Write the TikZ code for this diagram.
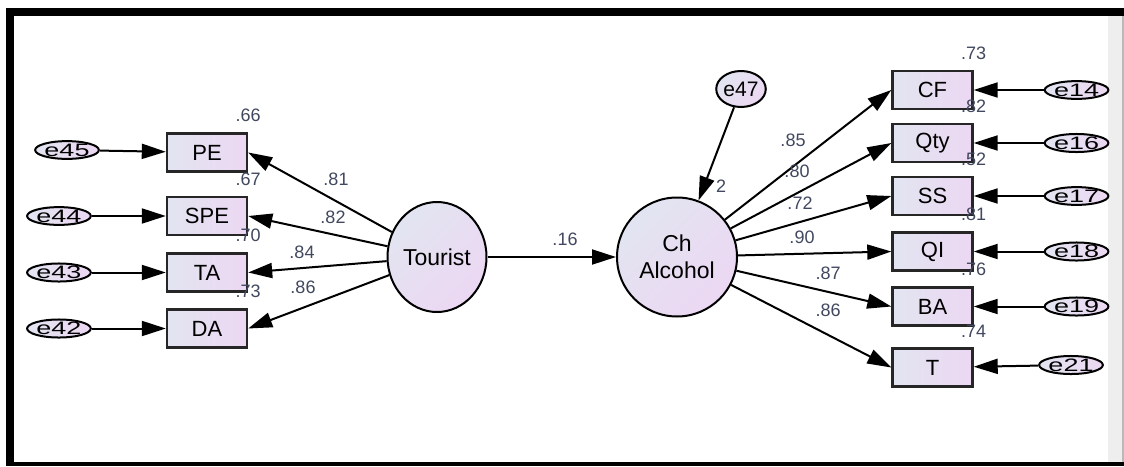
\documentclass[tikz,border=0pt]{standalone}
\usepackage{fontspec}
\setmainfont{Liberation Sans}
\usepackage{graphicx}
\usetikzlibrary{positioning,arrows.meta,shapes.geometric}

\definecolor{shadeA}{RGB}{226,229,241}
\definecolor{shadeB}{RGB}{236,215,242}
\definecolor{estcol}{RGB}{65,72,95}
\definecolor{stripgray}{RGB}{238,238,238}

\tikzset{
  obs/.style={rectangle, draw=black!85, line width=2.4pt, left color=shadeA, right color=shadeB,
    minimum width=80pt, minimum height=38pt, inner sep=0pt, font=\fontsize{22}{26}\selectfont},
  err/.style={ellipse, draw, line width=2pt, left color=shadeA, right color=shadeB,
    minimum width=53pt, minimum height=16pt, inner sep=0pt, font=\fontsize{18}{20}\selectfont},
  latent/.style={ellipse, draw, line width=2pt, top color=shadeA, bottom color=shadeB,
    shading angle=45, inner sep=0pt, align=center, font=\fontsize{23}{27}\selectfont},
  est/.style={inner sep=1pt, text=estcol, font=\fontsize{18}{20}\selectfont},
  regr/.style={line width=2pt, -{Triangle[length=24pt,width=15pt]}}
}
\newcommand{\errname}[1]{\scalebox{1.5}[1]{#1}}

\begin{document}
\begin{tikzpicture}[x=1pt, y=-1pt]
  \useasboundingbox (0,0) rectangle (1124,466);
  \fill[white] (0,0) rectangle (1124,466);

  % frame
  \fill[black] (6,8) rectangle (1124,466);
  \fill[white] (14,16) rectangle (1124,462);
  \fill[stripgray] (1108,16) rectangle (1122,462);
  \fill[gray!55] (1122,16) rectangle (1124,462);

  % latent variables
  \node[latent, minimum width=99pt, minimum height=110pt] (tourist) at (437,257) {Tourist};
  \node[latent, minimum width=120pt, minimum height=119pt] (chalc) at (677,257) {Ch\\Alcohol};
  \node[latent, minimum width=44pt, minimum height=36pt, font=\fontsize{21}{24}\selectfont] (e47) at (741,89) {e47};

  % indicators of Tourist
  \node[obs] (pe) at (207,152.5) {PE};
  \node[obs] (spe) at (207,216) {SPE};
  \node[obs] (ta) at (207,272.5) {TA};
  \node[obs] (da) at (207,328.5) {DA};

  \node[err] (e45) at (67,150) {\errname{e45}};
  \node[err] (e44) [left = 74pt of spe] {\errname{e44}};
  \node[err] (e43) [left = 74pt of ta] {\errname{e43}};
  \node[err] (e42) [left = 74pt of da] {\errname{e42}};

  % indicators of Ch Alcohol
  \node[obs] (cf) at (932.5,90) {CF};
  \node[obs] (qty) at (932.5,143) {Qty};
  \node[obs] (ss) at (932.5,196) {SS};
  \node[obs] (qi) at (932.5,251.5) {QI};
  \node[obs] (ba) at (932.5,306.5) {BA};
  \node[obs] (t) at (932.5,367.5) {T};

  \node[err] (e14) [right = 70pt of cf] {\errname{e14}};
  \node[err] (e16) [right = 70pt of qty] {\errname{e16}};
  \node[err] (e17) [right = 70pt of ss] {\errname{e17}};
  \node[err] (e18) [right = 70pt of qi] {\errname{e18}};
  \node[err] (e19) [right = 70pt of ba] {\errname{e19}};
  \node[err] (e21) at (1071,365) {\errname{e21}};

  % paths
  \draw[regr] (tourist) -- (chalc);
  \draw[regr] (e47) -- (chalc);

  \draw[regr] (tourist) -- (pe.east);
  \draw[regr] (tourist) -- (spe.east);
  \draw[regr] (tourist) -- (ta.east);
  \draw[regr] (tourist) -- (da.east);

  \draw[regr] (chalc) -- (cf.west);
  \draw[regr] (chalc) -- (qty.west);
  \draw[regr] (chalc) -- (ss.west);
  \draw[regr] (chalc) -- (qi.west);
  \draw[regr] (chalc) -- (ba.west);
  \draw[regr] (chalc) -- (t.west);

  \draw[regr] (e45) -- (pe);
  \draw[regr] (e44) -- (spe);
  \draw[regr] (e43) -- (ta);
  \draw[regr] (e42) -- (da);

  \draw[regr] (e14) -- (cf);
  \draw[regr] (e16) -- (qty);
  \draw[regr] (e17) -- (ss);
  \draw[regr] (e18) -- (qi);
  \draw[regr] (e19) -- (ba);
  \draw[regr] (e21) -- (t);

  % squared multiple correlations
  \node[est, above = 9pt of pe.north east] {.66};
  \node[est, above = 9pt of spe.north east] {.67};
  \node[est, above = 9pt of ta.north east] {.70};
  \node[est, above = 9pt of da.north east] {.73};
  \node[est, above = 9pt of cf.north east] {.73};
  \node[est, above = 9pt of qty.north east] {.82};
  \node[est, above = 9pt of ss.north east] {.52};
  \node[est, above = 9pt of qi.north east] {.81};
  \node[est, above = 9pt of ba.north east] {.76};
  \node[est, above = 9pt of t.north east] {.74};
  \node[est] at (721,186) {2};

  % standardized weights
  \node[est] at (336,179) {.81};
  \node[est] at (333,217) {.82};
  \node[est] at (302,252) {.84};
  \node[est] at (303,287) {.86};
  \node[est] at (565,239) {.16};
  \node[est] at (793,140) {.85};
  \node[est] at (797,171) {.80};
  \node[est] at (800,203) {.72};
  \node[est] at (802,237) {.90};
  \node[est] at (828,273) {.87};
  \node[est] at (828,310) {.86};
\end{tikzpicture}
\end{document}
